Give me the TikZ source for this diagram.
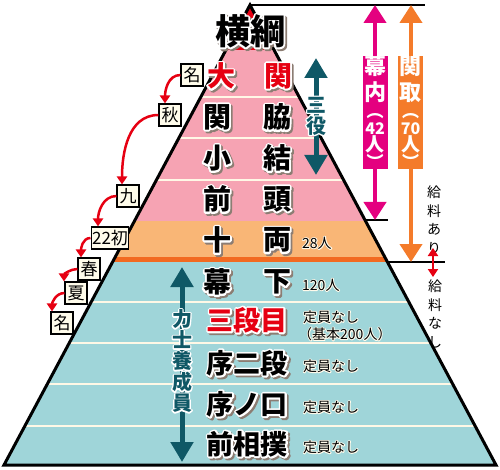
\documentclass[tikz,border=0pt]{standalone}
\usepackage{fontspec}
\usetikzlibrary{arrows.meta,calc}
\newfontfamily\jp{Noto Sans CJK JP}
\definecolor{pinkc}{HTML}{F6A3B3}
\definecolor{orangec}{HTML}{F9B676}
\definecolor{orangeline}{HTML}{F26A21}
\definecolor{tealc}{HTML}{9FD5D9}
\definecolor{sepc}{HTML}{FFF8E6}
\definecolor{redc}{HTML}{E60012}
\definecolor{magc}{HTML}{E4007F}
\definecolor{orgc}{HTML}{F47B2A}
\definecolor{darkteal}{HTML}{0F5866}
\definecolor{boxfill}{HTML}{FFFCEB}
\makeatletter
% text with white outline and grey drop shadow (PDF text render mode)
\newcommand{\rk}[2]{\leavevmode\rlap{\kern1.8pt\raisebox{-1.8pt}{\pgfsys@invoke{q 2 Tr 3.6 w 1 j 0.55 0.49 0.45 RG 0.55 0.49 0.45 rg}#2\pgfsys@invoke{Q}}}\rlap{\pgfsys@invoke{q 2 Tr 3.6 w 1 j 1 1 1 RG 1 1 1 rg}#2\pgfsys@invoke{Q}}{\color{#1}#2}}
% text with white outline
\newcommand{\wt}[1]{\leavevmode\rlap{\pgfsys@invoke{q 2 Tr 2.6 w 1 j 1 1 1 RG 1 1 1 rg}#1\pgfsys@invoke{Q}}#1}
\newcommand{\ws}[1]{\leavevmode\rlap{\pgfsys@invoke{q 2 Tr 1.8 w 1 j 1 0.98 0.92 RG 1 0.98 0.92 rg}#1\pgfsys@invoke{Q}}#1}
\makeatother
\tikzset{
  rank/.style={font=\jp\bfseries\fontsize{28}{30}\selectfont, inner sep=0pt},
  smalltxt/.style={font=\jp\fontsize{14}{16}\selectfont, inner sep=0pt, anchor=west},
  basho/.style={draw=black, line width=1.1pt, fill=boxfill, font=\jp\fontsize{17}{17}\selectfont, inner sep=1pt, minimum height=22pt, minimum width=22pt},
  redarr/.style={draw=redc, line width=2.5pt, -{Triangle[width=10pt,length=8pt]}},
  hrule/.style={draw=black, line width=1.3pt},
  bandline/.style={draw=sepc, line width=2pt},
  bigarr/.style={line width=4pt, {Triangle[width=22pt,length=18pt]}-{Triangle[width=22pt,length=18pt]}},
  tealarr/.style={draw=darkteal, line width=5pt, {Triangle[width=22pt,length=20pt]}-{Triangle[width=22pt,length=20pt]}},
  vlabel/.style={inner sep=0pt, minimum width=25pt, minimum height=109pt, text=white, align=center, font=\jp\bfseries\fontsize{22}{26}\selectfont},
  vsmall/.style={font=\jp\fontsize{14}{18.5}\selectfont, align=center, inner sep=0pt},
  vteal/.style={text=darkteal, font=\jp\bfseries\fontsize{20}{21}\selectfont, align=center, inner sep=0pt}
}
\begin{document}
\begin{tikzpicture}[x=1pt,y=-1pt]
\useasboundingbox (0,0) rectangle (500,470);
% pyramid bands
\begin{scope}
\clip (250,5) -- (4,465) -- (496,465) -- cycle;
\fill[redc] (0,0) rectangle (500,50);
\fill[pinkc] (0,50) rectangle (500,221);
\fill[orangec] (0,221) rectangle (500,259);
\fill[orangeline] (0,257) rectangle (500,262);
\fill[tealc] (0,262) rectangle (500,465);
\draw[bandline] (0,97) -- (500,97);
\draw[bandline] (0,138) -- (500,138);
\draw[bandline] (0,180) -- (500,180);
\draw[bandline] (0,302) -- (500,302);
\draw[bandline] (0,343) -- (500,343);
\draw[bandline] (0,384) -- (500,384);
\draw[bandline] (0,426) -- (500,426);
\end{scope}
\coordinate (apex) at (250,5);
\coordinate (bl) at (4,465);
\coordinate (br) at (496,465);
\draw[line width=3pt, line join=miter] (apex) -- (bl) -- (br) -- cycle;

% right side rules
\coordinate (topR) at (425,5);
\coordinate (mkL) at (365,220);
\coordinate (mkR) at (388,220);
\coordinate (skL) at (387,262);
\coordinate (skR) at (445,262);
\draw[hrule] (apex) -- (topR);
\draw[hrule] (mkL) -- (mkR);
\draw[hrule] (skL) -- (skR);

% makuuchi / sekitori arrows
\coordinate (mtop) at (375,5);
\coordinate (mbot) at (375,220);
\draw[bigarr, draw=magc, fill=magc] (mtop) -- (mbot);
\node[vlabel, fill=magc] (makuuchi) at (375,112.5) {幕\\内\\[-9pt]{\fontsize{17}{17}\selectfont ︵}\\[-9pt]{\fontsize{16}{16}\selectfont 42}\\[-9pt]{\fontsize{19}{19}\selectfont 人}\\[-9pt]{\fontsize{17}{17}\selectfont ︶}};
\coordinate (stop) at (411,5);
\coordinate (sbot) at (411,262);
\draw[bigarr, draw=orgc, fill=orgc] (stop) -- (sbot);
\node[vlabel, fill=orgc] (sekitori) at (410.5,112.5) {関\\取\\[-9pt]{\fontsize{17}{17}\selectfont ︵}\\[-9pt]{\fontsize{16}{16}\selectfont 70}\\[-9pt]{\fontsize{19}{19}\selectfont 人}\\[-9pt]{\fontsize{17}{17}\selectfont ︶}};

% salary
\node[vsmall] (kyuari) at (434,220) {給\\料\\あ\\り};
\node[vsmall] (kyunashi) at (435,314) {給\\料\\な\\し};
\coordinate (ktop) at (433,248);
\coordinate (kbot) at (433,277);
\draw[draw=redc, fill=redc, line width=2pt, {Triangle[width=10pt,length=8pt]}-{Triangle[width=10pt,length=8pt]}] (ktop) -- (kbot);

% sanyaku arrow
\coordinate (sytop) at (316,58);
\coordinate (sybot) at (316,175);
\draw[tealarr, fill=darkteal] (sytop) -- (sybot);
\node[vteal] (sanyaku) at (316,116) {\wt{三}\\\wt{役}};

% rikishi yoseiin arrow
\coordinate (rytop) at (182,267);
\coordinate (rybot) at (182,462);
\draw[tealarr, fill=darkteal] (rytop) -- (rybot);
\node[vteal] (yosei) at (182,361) {\wt{力}\\\wt{士}\\\wt{養}\\\wt{成}\\\wt{員}};

% rank texts
\node[rank, font=\jp\bfseries\fontsize{35}{36}\selectfont] (yokozuna) at (250,32) {\rk{black}{横綱}};
\node[rank] (oz1) at (221,77) {\rk{redc}{大}};
\node[rank] (oz2) at (278,77) {\rk{redc}{関}};
\node[rank] (sk1) at (217,118) {\rk{black}{関}};
\node[rank] (sk2) at (277,118) {\rk{black}{脇}};
\node[rank] (ko1) at (217,159) {\rk{black}{小}};
\node[rank] (ko2) at (277,159) {\rk{black}{結}};
\node[rank] (ma1) at (217,200) {\rk{black}{前}};
\node[rank] (ma2) at (277,200) {\rk{black}{頭}};
\node[rank] (ju1) at (217,241) {\rk{black}{十}};
\node[rank] (ju2) at (277,241) {\rk{black}{両}};
\node[rank] (mk1) at (217,283) {\rk{black}{幕}};
\node[rank] (mk2) at (277,283) {\rk{black}{下}};
\node[rank, font=\jp\bfseries\fontsize{27}{30}\selectfont] (sandanme) at (247,321) {\rk{redc}{三段目}};
\node[rank, font=\jp\bfseries\fontsize{27}{30}\selectfont] (jonidan) at (247,364) {\rk{black}{序二段}};
\node[rank, font=\jp\bfseries\fontsize{27}{30}\selectfont] (jonokuchi) at (247,405) {\rk{black}{序ノ口}};
\node[rank, font=\jp\bfseries\fontsize{27}{30}\selectfont] (maezumo) at (247,445) {\rk{black}{前相撲}};

% numbers
\node[smalltxt] (n28) at (302,243) {\ws{28人}};
\node[smalltxt] (n120) at (302,285) {\ws{120人}};
\node[smalltxt] (nsan1) at (303,317) {\ws{定員なし}};
\node[smalltxt] (nsan2) at (298,334) {\ws{（基本200人）}};
\node[smalltxt] (njoni) at (303,366) {\ws{定員なし}};
\node[smalltxt] (njono) at (303,407) {\ws{定員なし}};
\node[smalltxt] (nmae) at (303,447) {\ws{定員なし}};

% basho boxes
\node[basho] (b1) at (192,75) {名};
\node[basho] (b2) at (170,115) {秋};
\node[basho] (b3) at (128,196) {九};
\node[basho] (b4) at (110,238) {22初};
\node[basho] (b5) at (89,269) {春};
\node[basho] (b6) at (76,293) {夏};
\node[basho] (b7) at (62,323) {名};
\draw[redarr] (b1.west) to[out=180,in=90] ([xshift=-5pt]b2.north);
\draw[redarr] (b2.west) to[out=180,in=90] ([xshift=-6pt]b3.north);
\draw[redarr] (b3.west) to[out=180,in=90] ([xshift=-12pt]b4.north);
\draw[redarr] (b4.west) to[out=180,in=90] ([xshift=-8pt]b5.north);
\draw[redarr] (b5.west) to[out=180,in=90] ([xshift=-12pt]b6.north);
\draw[redarr] (b6.west) to[out=180,in=90] ([xshift=-10pt]b7.north);
\end{tikzpicture}
\end{document}
